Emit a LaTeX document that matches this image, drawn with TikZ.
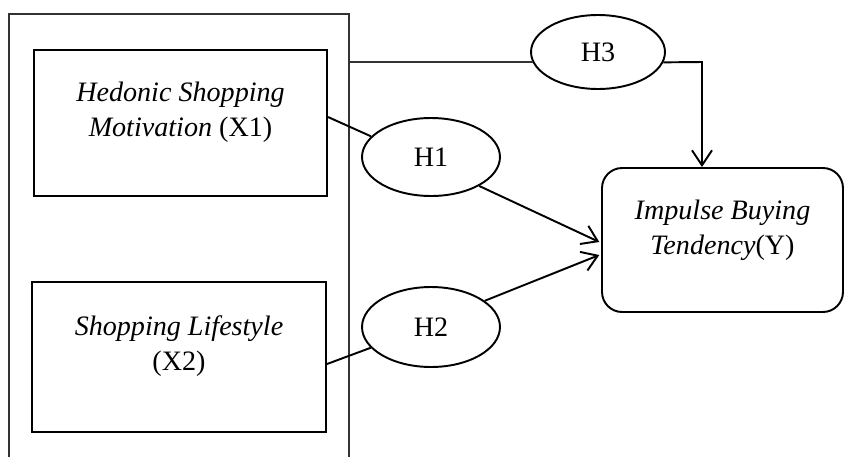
\documentclass[tikz,border=0pt]{standalone}
\usepackage{fontspec}
\setmainfont{Liberation Serif}
\usepackage{tikz}
\usetikzlibrary{shapes}
\usetikzlibrary{arrows.meta}
\tikzset{
  var node/.style={rectangle,draw,line width=1.2pt,minimum width=5.86cm,minimum height=2.92cm},
  hyp node/.style={ellipse,draw,line width=1.1pt,minimum width=2.76cm,minimum height=1.56cm,font=\fontsize{16}{19}\selectfont},
  out node/.style={rectangle,draw,rounded corners=0.4cm,line width=1.1pt,minimum width=4.82cm,minimum height=2.88cm},
  var text/.style={align=center,inner sep=0pt,font=\fontsize{16}{20}\selectfont},
  frame line/.style={line width=0.6pt,draw=black!80},
  path line/.style={line width=1.1pt}
}

\begin{document}
\begin{tikzpicture}[x=0.02cm,y=-0.02cm,>={Straight Barb[length=0.3cm,width=0.4cm]}]
        \useasboundingbox (0,0) rectangle (845,457);
        % frame round the two variables
        \draw[frame line] (9,457) -- (9,14) -- (349,14) -- (349,457);
        \node [var node] (x1) at (180.5,123) {};
        \node [var text] (x1t) at ([yshift=0.22cm]x1.center) {\textit{Hedonic Shopping}\\\textit{Motivation} (X1)};
        \node [var node,minimum width=5.88cm,minimum height=3cm] (x2) at (179,357) {};
        \node [var text] (x2t) at ([yshift=0.22cm]x2.center) {\textit{Shopping Lifestyle}\\(X2)};
        \node [out node] (y) at (722.5,240) {};
        \node [var text] (yt) at ([yshift=0.2cm]y.center) {\textit{Impulse Buying}\\\textit{Tendency}(Y)};
        % hypotheses
        \node [hyp node,minimum width=2.68cm,minimum height=1.48cm] (h3) at (598,52) {H3};
        \node [hyp node] (h1) at (431,157) {H1};
        \node [hyp node,minimum height=1.6cm] (h2) at (431,327) {H2};
        \coordinate (frame) at (349,62);
        \coordinate (turn) at (702,62);
        \draw[frame line] (frame) -- (frame -| h3.189);
        \draw[path line,->] (h3.351) -- (turn) -- (turn |- y.north);
        \draw[path line] ([yshift=0.12cm]x1.east) -- (h1.161);
        \draw[path line,->] (h1.329) -- ([xshift=-1pt,yshift=-0.04cm]y.west);
        \draw[path line] ([yshift=-0.14cm]x2.east) -- (h2.199);
        \draw[path line,->] (h2.26) -- ([xshift=-1pt,yshift=-0.3cm]y.west);
      \end{tikzpicture}
\end{document}
